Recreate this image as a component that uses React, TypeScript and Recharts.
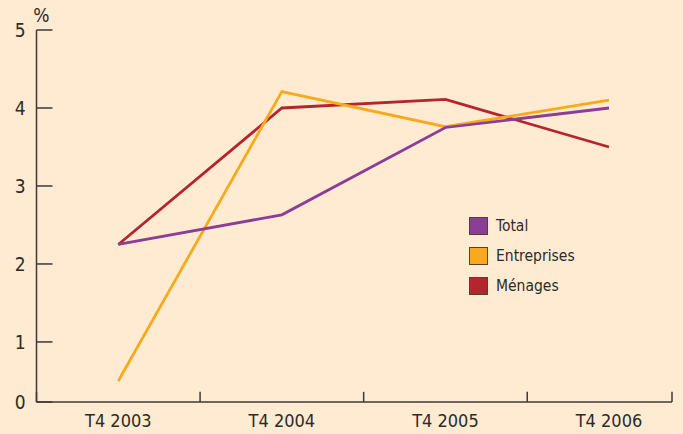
import React from 'react';
import { LineChart, Line, XAxis, YAxis, Legend, ReferenceLine, Label } from 'recharts';

const categories = ['T4 2003', 'T4 2004', 'T4 2005', 'T4 2006'];
const total = [2.25, 2.63, 3.75, 4.0];
const entreprises = [0.5, 4.21, 3.76, 4.1];
const menages = [2.25, 4.0, 4.11, 3.5];
const yMin = 0.23;
const yTicks = [yMin, 1, 2, 3, 4, 5];
const yTickLabels = ['0', '1', '2', '3', '4', '5'];
const xMax = 3.385;
const xBoundaries = [-0.5, 0.5, 1.5, 2.5, xMax];

const seriesMeta = [
  { key: 'total', name: 'Total', color: '#8c3d98' },
  { key: 'entreprises', name: 'Entreprises', color: '#f9aa1c' },
  { key: 'menages', name: 'Ménages', color: '#b4252f' },
];

const data = categories.map((c, i) => ({
  i,
  cat: c,
  total: total[i],
  entreprises: entreprises[i],
  menages: menages[i],
}));

const FONT = '"Liberation Sans Narrow", "Arial Narrow", "DejaVu Sans Condensed", sans-serif';
const TEXT = '#2d2a2a';
const AXIS = '#3f3838';

const YTick = (props: any) => {
  const { x, y, payload } = props;
  const label = yTickLabels[yTicks.indexOf(payload.value)] ?? String(payload.value);
  return (
    <g>
      <text x={x} y={y} dy="0.36em" textAnchor="end" fill={TEXT} fontSize={19} fontFamily={FONT}>
        {label}
      </text>
      <line x1={x + 11} x2={x + 27} y1={y} y2={y} stroke={AXIS} strokeWidth={1.5} />
    </g>
  );
};

const XTick = (props: any) => {
  const { x, y, payload } = props;
  return (
    <text x={x} y={y} dy="0.71em" textAnchor="middle" fill={TEXT} fontSize={18} fontFamily={FONT}>
      {categories[payload.value]}
    </text>
  );
};

const LegendContent = () => (
  <div style={{ fontFamily: FONT, fontSize: 15.5, color: TEXT }}>
    {seriesMeta.map((s) => (
      <div key={s.key} style={{ display: 'flex', alignItems: 'center', height: 30 }}>
        <div
          style={{
            width: 17,
            height: 16,
            background: s.color,
            border: '1px solid #5a3e33',
            marginRight: 8,
          }}
        />
        <span>{s.name}</span>
      </div>
    ))}
  </div>
);

export default function App() {
  return (
    <div style={{ position: 'absolute', left: 0, top: 0, width: 683, height: 434, background: '#feebd2' }}>
      <LineChart
        width={683}
        height={434}
        data={data}
        margin={{ top: 30, right: 11, left: 0, bottom: 0 }}
      >
        <XAxis
          dataKey="i"
          type="number"
          domain={[-0.5, xMax]}
          ticks={[0, 1, 2, 3]}
          tickLine={false}
          tickSize={0}
          tickMargin={12}
          height={32}
          axisLine={{ stroke: AXIS, strokeWidth: 1.5 }}
          tick={<XTick />}
          allowDataOverflow
        />
        <YAxis
          type="number"
          domain={[yMin, 5]}
          ticks={yTicks}
          tickLine={false}
          tickSize={0}
          tickMargin={11}
          width={36.5}
          axisLine={{ stroke: AXIS, strokeWidth: 1.5 }}
          tick={<YTick />}
          allowDataOverflow
        >
          <Label value="%" position="top" dx={23} dy={-3} fill={TEXT} fontSize={19} fontFamily={FONT} />
        </YAxis>
        {xBoundaries.map((b) => (
          <ReferenceLine
            key={b}
            segment={[{ x: b, y: yMin }, { x: b, y: yMin + 0.13 }]}
            stroke={AXIS}
            strokeWidth={1.5}
            ifOverflow="visible"
          />
        ))}
        <Line type="linear" dataKey="menages" name="Ménages" stroke="#b4252f" strokeWidth={2.8} dot={false} isAnimationActive={false} />
        <Line type="linear" dataKey="entreprises" name="Entreprises" stroke="#f9aa1c" strokeWidth={2.8} dot={false} isAnimationActive={false} />
        <Line type="linear" dataKey="total" name="Total" stroke="#8c3d98" strokeWidth={2.8} dot={false} isAnimationActive={false} />
        <Legend
          layout="vertical"
          align="center"
          verticalAlign="middle"
          content={<LegendContent />}
          wrapperStyle={{ left: 469, top: 211, width: 120, height: 92 }}
        />
      </LineChart>
    </div>
  );
}
